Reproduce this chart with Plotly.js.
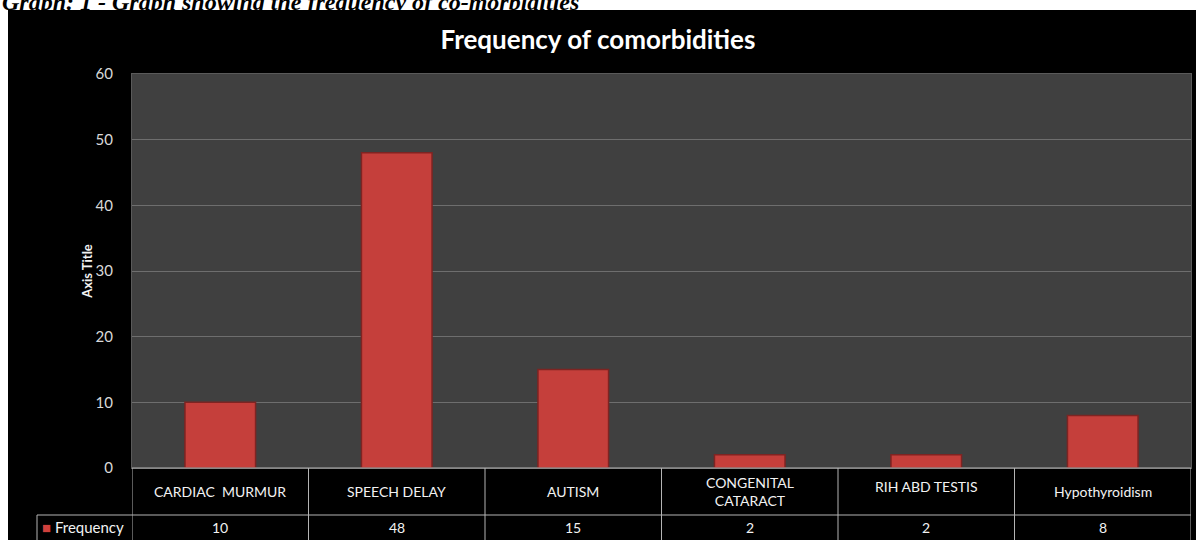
<!DOCTYPE html>
<html>
<head>
<meta charset="utf-8">
<script src="https://cdn.plot.ly/plotly-3.0.1.min.js"></script>
<style>
  html, body { margin: 0; padding: 0; background: #ffffff; width: 1196px; height: 540px; overflow: hidden; }
  #caption { position: absolute; left: 2px; top: -10px; font-family: "Liberation Serif", "DejaVu Serif", serif;
             font-weight: bold; font-style: italic; font-size: 24px; line-height: 24px; color: #000; white-space: nowrap; }
  #chart { position: absolute; left: 8px; top: 10px; width: 1188px; height: 530px; }
</style>
</head>
<body>
<div id="caption">Graph: 1 - Graph showing the frequency of co-morbidities</div>
<div id="chart"></div>
<script>
const chartTitle = "Frequency of comorbidities";
const yAxisTitle = "Axis Title";
const seriesName = "Frequency";
const categories = ["CARDIAC\u00a0\u00a0MURMUR", "SPEECH DELAY", "AUTISM", "CONGENITAL<br>CATARACT", "RIH ABD TESTIS", "Hypothyroidism"];
const frequency = [10, 48, 15, 2, 2, 8];
const yTickValues = [0, 10, 20, 30, 40, 50, 60];

const FONT = "Lato, 'Open Sans', sans-serif";
const catIdx = categories.map((c, i) => i);

// geometry in paper units of the plot area (plot area 1059 x 394 px)
const rowTop = 0, rowMid = -47 / 394, rowBot = -80 / 394;
const legendLeft = (37 - 132) / 1059;

const shapes = [];
const lineStyle = { color: "#b4b4b4", width: 1 };
for (let i = 0; i <= categories.length; i++) {
  shapes.push({ type: "line", xref: "x", yref: "paper", x0: i - 0.5, x1: i - 0.5, y0: rowTop, y1: rowBot, line: lineStyle });
}
shapes.push({ type: "line", xref: "paper", yref: "paper", x0: 0, x1: 1, y0: rowTop, y1: rowTop, line: lineStyle });
shapes.push({ type: "line", xref: "paper", yref: "paper", x0: legendLeft, x1: 1, y0: rowMid, y1: rowMid, line: lineStyle });
shapes.push({ type: "line", xref: "paper", yref: "paper", x0: legendLeft, x1: legendLeft, y0: rowMid, y1: rowBot, line: lineStyle });

const annotations = [];
categories.forEach((c, i) => {
  const topAligned = (c === "RIH ABD TESTIS");
  annotations.push({
    xref: "x", yref: "paper", x: i, y: topAligned ? -8 / 394 : -23.5 / 394,
    yanchor: topAligned ? "top" : "middle", xanchor: "center",
    text: c, showarrow: false, font: { family: FONT, size: 14, color: "#f2f2f2" }
  });
  annotations.push({
    xref: "x", yref: "paper", x: i, y: -59 / 394, yanchor: "middle", xanchor: "center",
    text: String(frequency[i]), showarrow: false, font: { family: FONT, size: 14, color: "#f2f2f2" }
  });
});
annotations.push({
  xref: "paper", yref: "paper", x: (40 - 132) / 1059, y: -59 / 394, xanchor: "left", yanchor: "middle",
  text: '<span style="color:#d0403c">\u25A0</span> ' + seriesName, showarrow: false,
  font: { family: FONT, size: 15, color: "#f2f2f2" }
});

const trace = {
  type: "bar", x: catIdx, y: frequency, name: seriesName,
  marker: { color: "#c53f3b", line: { color: "#7e2422", width: 1.5 } },
  hoverinfo: "y", showlegend: false
};

const layout = {
  width: 1188, height: 530,
  paper_bgcolor: "#000000", plot_bgcolor: "#404040",
  margin: { l: 124, r: 5, t: 64, b: 72 },
  bargap: 0.6,
  title: { text: chartTitle, x: 0.4966, xref: "container", y: 1 - 30 / 530, yref: "container", yanchor: "middle", xanchor: "center",
           font: { family: FONT, size: 26, color: "#ffffff", weight: "bold" } },
  xaxis: { range: [-0.5, categories.length - 0.5], showticklabels: false, showgrid: false, zeroline: false,
           showline: true, mirror: true, linecolor: "#5a5a5a", linewidth: 1, fixedrange: true },
  yaxis: { range: [0, 60], tickvals: yTickValues, ticktext: yTickValues.map(String), showgrid: true, gridcolor: "#6e6e6e", gridwidth: 1,
           zeroline: false, showline: true, mirror: true, linecolor: "#5a5a5a", linewidth: 1,
           ticks: "", ticklabelstandoff: 15, tickfont: { family: FONT, size: 15, color: "#d9d9d9" },
           title: { text: yAxisTitle, standoff: 0, font: { family: FONT, size: 13, color: "#f2f2f2", weight: "bold" } },
           automargin: false, fixedrange: true },
  shapes: shapes,
  annotations: annotations
};

Plotly.newPlot("chart", [trace], layout, { displayModeBar: false, staticPlot: true });
</script>
</body>
</html>
